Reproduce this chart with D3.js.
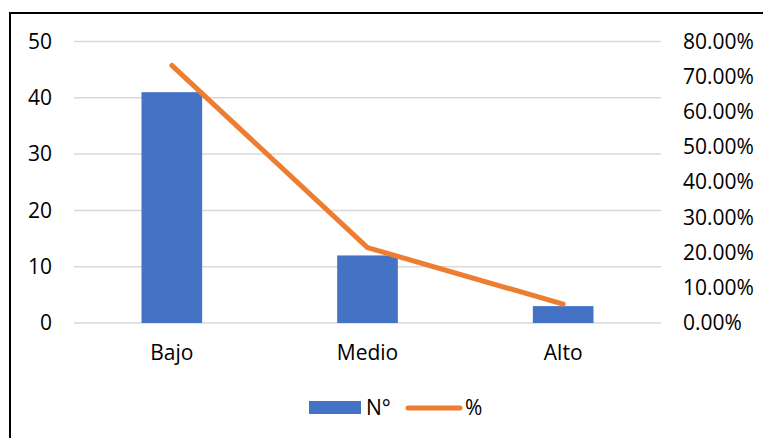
<!DOCTYPE html>
<html lang="es">
<head>
<meta charset="utf-8">
<title>Niveles</title>
<script src="https://cdn.jsdelivr.net/npm/d3@7"></script>
<style>
  body { margin: 0; background: #fff; }
  text { font-family: "Open Sans", "Noto Sans", sans-serif; fill: #000; }
  .grid line { stroke: #d9d9d9; stroke-width: 1.5; }
</style>
</head>
<body>
<script>
  var categories = ["Bajo", "Medio", "Alto"];
  var counts = [41, 12, 3];
  var percents = [0.7321, 0.2143, 0.0536];
  var leftTicks = [0, 10, 20, 30, 40, 50];
  var rightTicks = [0, 0.1, 0.2, 0.3, 0.4, 0.5, 0.6, 0.7, 0.8];

  var w = 763, h = 438;
  var padL = 74, padR = 661, padT = 41.5, padB = 323;

  var svg = d3.select("body").append("svg")
    .attr("width", w)
    .attr("height", h);

  svg.append("rect")
    .attr("x", 10).attr("y", 13)
    .attr("width", w).attr("height", h)
    .attr("fill", "none")
    .attr("stroke", "#000")
    .attr("stroke-width", 2);

  var x = d3.scaleBand().domain(categories).range([padL, padR]).paddingInner(0.69).paddingOuter(0.345);
  var y = d3.scaleLinear().domain([0, 50]).range([padB, padT]);
  var y2 = d3.scaleLinear().domain([0, 0.8]).range([padB, padT]);

  svg.append("g")
    .attr("class", "grid")
    .selectAll("line")
    .data(leftTicks)
    .enter().append("line")
    .attr("x1", padL).attr("x2", padR)
    .attr("y1", function(d) { return y(d); })
    .attr("y2", function(d) { return y(d); });

  svg.selectAll(".bar")
    .data(counts)
    .enter().append("rect")
    .attr("class", "bar")
    .attr("x", function(d, i) { return x(categories[i]); })
    .attr("y", function(d) { return y(d); })
    .attr("width", x.bandwidth())
    .attr("height", function(d) { return padB - y(d); })
    .attr("fill", "#4472c4");

  var line = d3.line()
    .x(function(d, i) { return x(categories[i]) + x.bandwidth() / 2; })
    .y(function(d) { return y2(d); });

  svg.append("path")
    .datum(percents)
    .attr("d", line)
    .attr("fill", "none")
    .attr("stroke", "#ed7d31")
    .attr("stroke-width", 5)
    .attr("stroke-linecap", "round")
    .attr("stroke-linejoin", "round");

  // left axis
  var gl = svg.append("g")
    .attr("transform", "translate(" + (padL - 22) + ",0)")
    .call(d3.axisLeft(y).tickValues(leftTicks).tickSize(0).tickPadding(0));
  gl.select(".domain").remove();
  gl.selectAll("text").style("font-size", "21px").attr("fill", "#000");

  // right axis
  var gr = svg.append("g")
    .attr("transform", "translate(" + (padR + 22) + ",0)")
    .call(d3.axisRight(y2).tickValues(rightTicks).tickFormat(d3.format(".2%")).tickSize(0).tickPadding(0));
  gr.select(".domain").remove();
  gr.selectAll("text").style("font-size", "21px").attr("fill", "#000");

  // category axis
  var gb = svg.append("g")
    .attr("transform", "translate(0," + (padB + 22) + ")")
    .call(d3.axisBottom(x).tickSize(0).tickPadding(0));
  gb.select(".domain").remove();
  gb.selectAll("text").style("font-size", "21px").attr("fill", "#000");

  // legend
  var lg = svg.append("g");
  lg.append("rect")
    .attr("x", 309).attr("y", 401).attr("width", 52).attr("height", 13)
    .attr("fill", "#4472c4");
  lg.append("text")
    .attr("x", 366).attr("y", 408).attr("dy", "0.35em")
    .style("font-size", "21px")
    .text("N°");
  lg.append("line")
    .attr("x1", 408).attr("x2", 460).attr("y1", 408).attr("y2", 408)
    .attr("stroke", "#ed7d31").attr("stroke-width", 5).attr("stroke-linecap", "round");
  lg.append("text")
    .attr("x", 465).attr("y", 408).attr("dy", "0.35em")
    .style("font-size", "21px")
    .text("%");
</script>
</body>
</html>
